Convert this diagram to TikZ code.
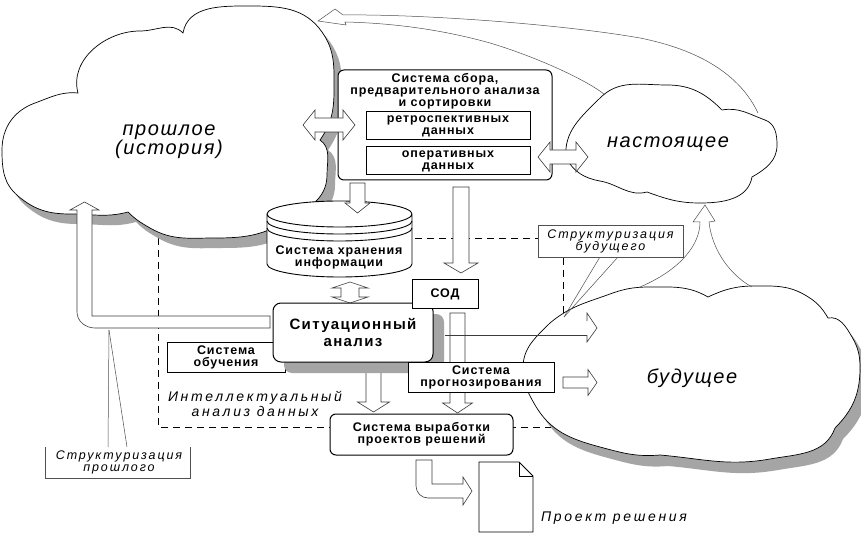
\documentclass[tikz,border=0pt]{standalone}
\usepackage{fontspec}
\setmainfont{Liberation Sans}
\newfontfamily\bx{Liberation Sans}[LetterSpace=7]
\newfontfamily\ix{Liberation Sans}[LetterSpace=8]
\usetikzlibrary{calc}
\definecolor{shadowgray}{RGB}{165,165,165}
\definecolor{linegray}{RGB}{80,80,80}
\definecolor{arrowline}{RGB}{60,60,60}
\tikzset{
 barrow/.style={draw=arrowline, fill=white, line width=0.6pt, line join=miter},
 sqbox/.style={draw, fill=white, line width=1pt, inner sep=0pt},
 rbox/.style={sqbox, rounded corners=6pt},
 btxt/.style={font=\bx\bfseries\fontsize{12.5}{12}\selectfont, align=center, inner sep=0pt},
 sittxt/.style={font=\bx\bfseries\addfontfeature{LetterSpace=9}\fontsize{15}{17}\selectfont, align=center, inner sep=0pt},
 ctxt/.style={font=\ix\itshape\fontsize{20}{19}\selectfont, align=center, inner sep=0pt},
 itxt/.style={font=\ix\itshape\addfontfeature{LetterSpace=19}\fontsize{14}{15}\selectfont, align=center, inner sep=0pt},
 cltxt/.style={font=\ix\itshape\addfontfeature{LetterSpace=15}\fontsize{12.5}{12}\selectfont, align=center, inner sep=0pt},
 cloudline/.style={draw, fill=white, line width=0.7pt},
 gline/.style={draw=linegray, line width=0.5pt},
 dashedframe/.style={draw, line width=0.7pt, dash pattern=on 7pt off 5pt},
}
% block arrows: down {cx}{ytop}{ytip}{shaft half}{head half}{head len}
\newcommand\bdown[6]{\draw[barrow] ({#1-#4},#2) -- ({#1+#4},#2) -- ({#1+#4},{#3-#6}) -- ({#1+#5},{#3-#6}) -- (#1,#3) -- ({#1-#5},{#3-#6}) -- ({#1-#4},{#3-#6}) -- cycle;}
% right {cy}{xleft}{xtip}{shaft half}{head half}{head len}
\newcommand\bright[6]{\draw[barrow] (#2,{#1-#4}) -- ({#3-#6},{#1-#4}) -- ({#3-#6},{#1-#5}) -- (#3,#1) -- ({#3-#6},{#1+#5}) -- ({#3-#6},{#1+#4}) -- (#2,{#1+#4}) -- cycle;}
% double horizontal {cy}{xl}{xr}{shaft half}{head half}{head len}
\newcommand\bdoubleh[6]{\draw[barrow] (#2,#1) -- ({#2+#6},{#1-#5}) -- ({#2+#6},{#1-#4}) -- ({#3-#6},{#1-#4}) -- ({#3-#6},{#1-#5}) -- (#3,#1) -- ({#3-#6},{#1+#5}) -- ({#3-#6},{#1+#4}) -- ({#2+#6},{#1+#4}) -- ({#2+#6},{#1+#5}) -- cycle;}
% double vertical {cx}{yt}{yb}{shaft half}{head half}{head len}
\newcommand\bdoublev[6]{\draw[barrow] (#1,#2) -- ({#1+#5},{#2+#6}) -- ({#1+#4},{#2+#6}) -- ({#1+#4},{#3-#6}) -- ({#1+#5},{#3-#6}) -- (#1,#3) -- ({#1-#5},{#3-#6}) -- ({#1-#4},{#3-#6}) -- ({#1-#4},{#2+#6}) -- ({#1-#5},{#2+#6}) -- cycle;}
% clouds
\newcommand\pastcloud[1]{\path[#1] (128,212) to[out=195,in=0] (70,214) to[out=180,in=-40] (18,196) to[out=140,in=-90] (2,150) to[out=90,in=200] (35,103) to[out=20,in=175] (78,93) to[out=105,in=180] (140,31) to[out=0,in=135] (183,33) to[out=80,in=180] (250,6) to[out=0,in=125] (322,32) to[out=-55,in=90] (334,90) to[out=-90,in=55] (320,140) to[out=-35,in=90] (327,175) to[out=-90,in=30] (285,222) to[out=-150,in=0] (215,238) to[out=180,in=-30] (150,228) to[out=150,in=-45] (128,212) -- cycle;}
\newcommand\prescloud[1]{\path[#1] (566,158) to[out=95,in=-135] (600,98) to[out=45,in=180] (667,85) to[out=0,in=135] (722,110) to[out=10,in=160] (765,120) to[out=-20,in=90] (777,145) to[out=-90,in=30] (752,177) to[out=-100,in=0] (700,203) to[out=180,in=-20] (647,192) to[out=195,in=-10] (600,181) to[out=170,in=-60] (566,158) -- cycle;}
\newcommand\futcloud[1]{\path[#1] (550,323) to[out=40,in=200] (610,294) to[out=20,in=180] (650,287) to[out=0,in=150] (708,297) to[out=25,in=180] (755,286) to[out=0,in=150] (805,295) to[out=-30,in=120] (828,318) to[out=10,in=120] (852,337) to[out=-60,in=90] (860,368) to[out=-90,in=45] (835,428) to[out=-110,in=10] (770,459) to[out=190,in=-5] (660,455) to[out=185,in=-15] (600,447) to[out=165,in=-60] (535,405) to[out=120,in=-90] (523,368) to[out=90,in=-135] (550,323) -- cycle;}
\begin{document}
\begin{tikzpicture}[x=1pt,y=-1pt]
\useasboundingbox[fill=white] (0,0) rectangle (861,534);

% dashed frame of intellectual analysis
\draw[dashedframe] (158,238) rectangle (563,427);

% clouds
\pastcloud{fill=shadowgray, shift={(8,10)}}
\pastcloud{cloudline}
\futcloud{fill=shadowgray, shift={(8,11)}}
\futcloud{cloudline}
\prescloud{cloudline}

\node[ctxt] (pastT) at (169,142) {прошлое\\(история)};
\node[ctxt] (presT) at (668,144) {настоящее};
\node[ctxt] (futT) at (692,378) {будущее};

% curved arrow present -> past (top)
\draw[gline] (758,113) .. controls (740,75) and (700,50) .. (640,38) .. controls (560,24) and (420,14) .. (343,15) -- (335,9) -- (318,21) -- (346,25) -- (345,22) .. controls (390,23) and (440,29) .. (490,43) .. controls (540,58) and (590,82) .. (605,95);

% curved arrow future -> present
\draw[gline] (640,287) .. controls (680,270) and (700,245) .. (700,222) -- (693,222) -- (705,205) -- (715,221) -- (709,222) .. controls (712,250) and (730,275) .. (752,287);

% callout: structuring of the future
\coordinate (futtip) at (564,317);
\node[draw=linegray, fill=white, line width=0.5pt, minimum width=145pt, minimum height=32pt, cltxt] (futc) at (610.5,241) {Структуризация\\будущего};
\draw[gline] ([xshift=62pt]futc.south west) -- (futtip);
\draw[gline] ([xshift=80pt]futc.south west) -- (futtip);

% callout: structuring of the past
\coordinate (pasttip) at (109,330);
\path[fill=white] (45,447) rectangle (190,478);
\draw[gline] (45,447) -- (45,478) -- (190,478) -- (190,447);
\node[cltxt] (pastc) at (119,462) {Структуризация\\прошлого};
\draw[gline] (108,447) -- (pasttip);
\draw[gline] (127,447) -- (pasttip);

% storage cylinder
\path[draw, fill=white, line width=0.9pt] (267,214) -- (267,264) arc[start angle=180, end angle=360, x radius=72.5pt, y radius=13pt] -- (412,214) arc[start angle=0, end angle=180, x radius=72.5pt, y radius=13pt] arc[start angle=180, end angle=360, x radius=72.5pt, y radius=13pt];
\draw[line width=0.9pt] (267,221) arc[start angle=180, end angle=360, x radius=72.5pt, y radius=13pt];
\draw[line width=0.9pt] (267,228) arc[start angle=180, end angle=360, x radius=72.5pt, y radius=13pt];
\node[btxt] (store) at (339,257) {Система хранения\\информации};

% collection system box
\node[rbox, minimum width=214pt, minimum height=110pt] (collect) at (445,125) {};
\node[btxt] (collectT) at (445,91.5) {Система сбора,\\предварительного анализа\\и сортировки};
\node[sqbox, btxt, minimum width=164pt, minimum height=28pt] (retro) at (448,126) {ретроспективных\\данных};
\node[sqbox, btxt, minimum width=164pt, minimum height=28pt] (oper) at (448,161) {оперативных\\данных};

% double arrows
\bdoubleh{125}{303}{355}{7}{15}{12}
\bdoubleh{157}{538}{588}{7}{15}{12}
\bdoublev{350}{282}{303}{9}{18}{6}

% down arrows from collection box
\bdown{357.5}{183}{213}{7.5}{12.5}{10}
\bdown{461}{187}{273}{8}{17}{10}

% long arrow to the past
\draw[barrow] (270,316) -- (92,316) -- (92,210) -- (99,210) -- (84.5,202) -- (70,210) -- (77,210) -- (77,312) to[out=-90,in=180] (95,328) -- (270,328) -- cycle;

% learning system
\node[sqbox, btxt, minimum width=118pt, minimum height=30pt] (learn) at (226,357) {Система\\обучения};

% arrow situational -> decisions
\bdown{373.5}{365}{412}{7.5}{16}{10}

% situational analysis
\fill[shadowgray, rounded corners=8pt] (284,314) rectangle (444,373);
\node[rbox, rounded corners=8pt, minimum width=160pt, minimum height=59pt, sittxt] (sit) at (353,332.5) {Ситуационный\\анализ};

% SOD
\node[sqbox, btxt, minimum width=66pt, minimum height=28pt] (sod) at (445,294) {СОД};
\bdown{457.5}{313}{413}{7.5}{15}{10}
\draw[draw=arrowline, line width=0.6pt] (445,335) -- (587,335);
\draw[draw=arrowline, line width=0.6pt, line join=miter] (587,321) -- (587,313) -- (597,328) -- (587,342) -- (587,335);

% forecasting
\node[sqbox, btxt, minimum width=146pt, minimum height=30pt] (prog) at (481,377) {Система\\прогнозирования};
\bright{382.5}{563}{597}{5.5}{13}{9}

% intellectual analysis label
\node[itxt] (idaT) at (255,404) {Интеллектуальный\\анализ данных};

% decision development
\node[rbox, btxt, minimum width=183pt, minimum height=41pt] (dev) at (421.5,434.5) {Система выработки\\проектов решений};

% bent arrow to document
\draw[barrow] (416,460) -- (432,460) -- (432,484) -- (463,484) -- (463,477) -- (472,491) -- (463,505) -- (463,498) -- (428,498) to[out=180,in=-90] (416,486) -- cycle;

% document
\draw[fill=white, line width=0.8pt, line join=miter] (479,462) -- (519,462) -- (533,476) -- (533,532) -- (479,532) -- cycle;
\draw[line width=0.6pt] (519,462) -- (519,476) -- (533,476);
\node[itxt] (projT) at (614,518) {Проект решения};
\end{tikzpicture}
\end{document}
